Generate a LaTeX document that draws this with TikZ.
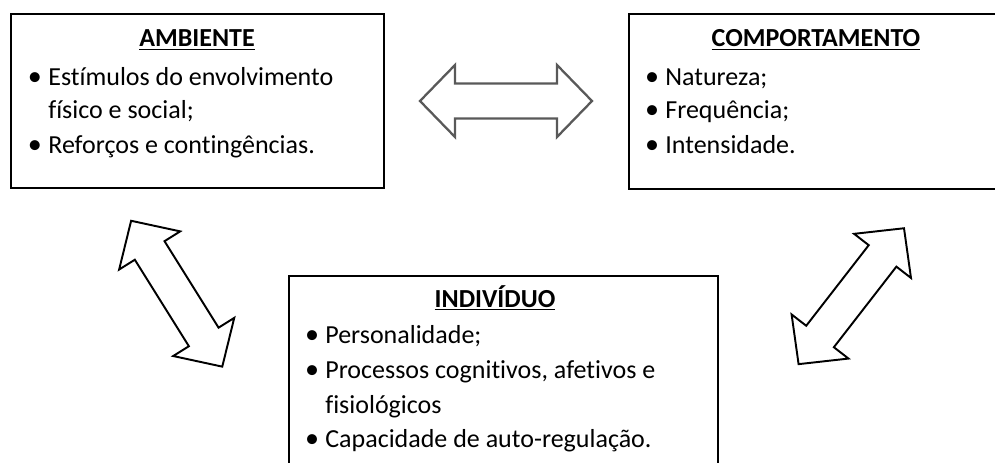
\documentclass[tikz,border=0pt]{standalone}
\usepackage{fontspec}
\setmainfont{Carlito}[Ligatures=NoCommon]
\usetikzlibrary{calc}

\tikzset{
  caixa/.style={draw, line width=1.4pt, inner sep=0pt, anchor=north west},
  titulo/.style={inner sep=0pt, anchor=base, font=\fontsize{14.8pt}{17pt}\selectfont\bfseries},
  texto/.style={inner sep=0pt, anchor=base west, font=\fontsize{14.8pt}{17pt}\selectfont},
  marca/.style={inner sep=0pt, anchor=base, font=\fontsize{16pt}{17pt}\selectfont},
  setadupla/.pic={
    \draw[pic actions] (-86,0) -- (-51,36) -- (-51,17.5) -- (51,17.5) -- (51,36)
      -- (86,0) -- (51,-36) -- (51,-17.5) -- (-51,-17.5) -- (-51,-36) -- cycle;
  }
}

\begin{document}
\begin{tikzpicture}[x=0.02cm, y=-0.02cm]
  % 画布大小（像素坐标，y 向下）
  \useasboundingbox (0,0) rectangle (995,463);
  \clip (0,0) rectangle (995,463);

  % 三个方框
  \node[caixa, minimum width=7.46cm, minimum height=3.48cm] (amb) at (10,13) {};
  \node[caixa, minimum width=7.52cm, minimum height=3.50cm] (comp) at (628,13) {};
  \node[caixa, minimum width=8.58cm, minimum height=4.40cm] (ind) at (288,275) {};

  % AMBIENTE
  \node[titulo] (ambT) at (197,47) {\underline{AMBIENTE}};
  \node[marca] (ambB1) at (35,85) {•};
  \node[texto] (amb1) at (48,85) {Estímulos do envolvimento};
  \node[texto] (amb2) at (48,118) {físico e social;};
  \node[marca] (ambB2) at (35,153) {•};
  \node[texto] (amb3) at (48,153) {Reforços e contingências.};

  % COMPORTAMENTO
  \node[titulo] (compT) at (816,47) {\underline{COMPORTAMENTO}};
  \foreach \y/\txt [count=\k] in {85/Natureza;, 118/Frequência;, 153/Intensidade.}{
    \node[marca] (compB\k) at (652,\y) {•};
    \node[texto] (comp\k) at (665,\y) {\txt};
  }

  % INDIVÍDUO
  \node[titulo] (indT) at (495,307) {\underline{INDIVÍDUO}};
  \node[marca] (indB1) at (312,343) {•};
  \node[texto] (ind1) at (325,343) {Personalidade;};
  \node[marca] (indB2) at (312,378) {•};
  \node[texto] (ind2) at (325,378) {Processos cognitivos, afetivos e};
  \node[texto] (ind3) at (325,413) {fisiológicos};
  \node[marca] (indB3) at (312,447) {•};
  \node[texto] (ind4) at (325,447) {Capacidade de auto-regulação.};

  % 双向箭头
  \pic[draw=black!65, line width=1.3pt] at (506,101) {setadupla};
  \pic[draw=black, line width=1.1pt, rotate=-58] at (176.7,293.7) {setadupla};
  \pic[draw=black, line width=1.1pt, rotate=52.2] at (851.3,296.2) {setadupla};
\end{tikzpicture}
\end{document}
